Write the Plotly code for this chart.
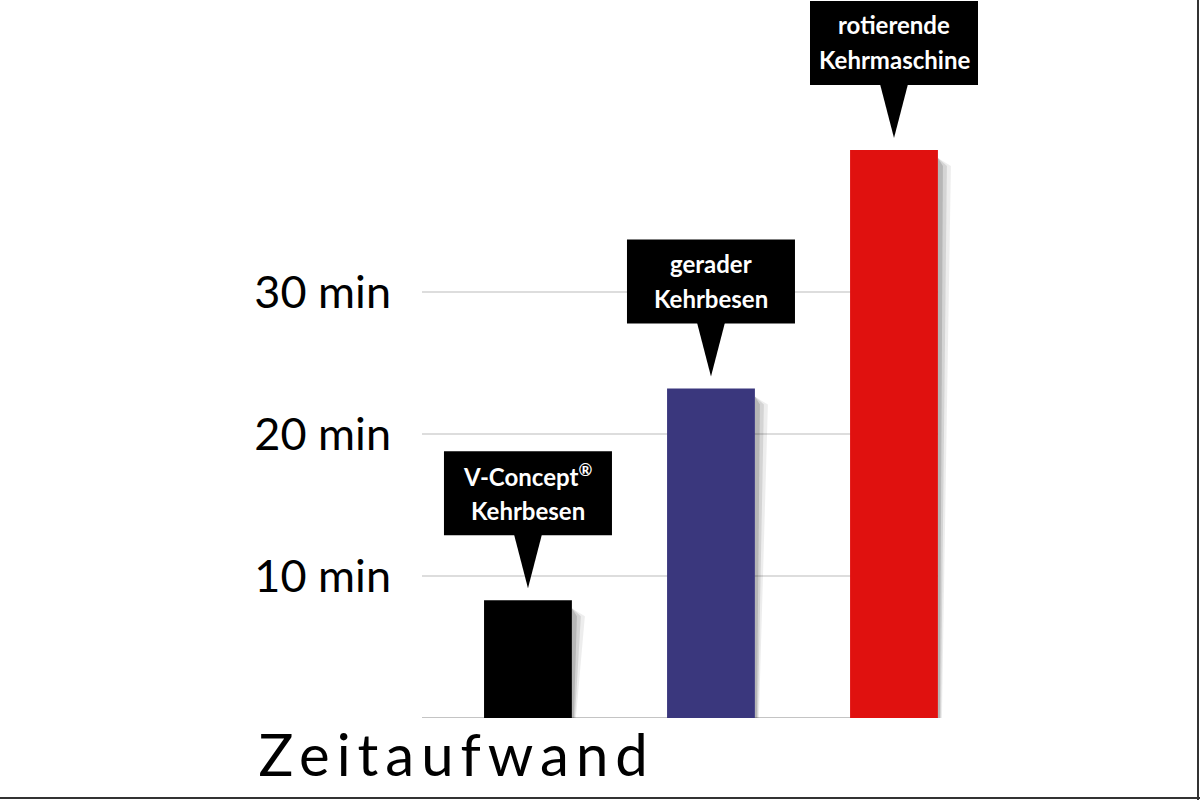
import plotly.graph_objects as go

# bar data (minutes)
categories = ["V-Concept Kehrbesen", "gerader Kehrbesen", "rotierende Kehrmaschine"]
minutes = [8.3, 23.2, 40.0]
bar_colors = ["#000000", "#3a377d", "#e0110f"]
callout_line1 = ["V-Concept<sup>®</sup>", "gerader", "rotierende"]
callout_line2 = ["Kehrbesen", "Kehrbesen", "Kehrmaschine"]

tick_vals = [10, 20, 30]
tick_text = ["10 min", "20 min", "30 min"]
axis_title = "Zeitaufwand"

W, H = 1200, 800
M = dict(l=422, r=0, t=0, b=82)
PW = W - M["l"] - M["r"]
PH = H - M["t"] - M["b"]

X_RANGE = [-0.579, 3.672]
Y_RANGE = [0, 50.56]
# pixel offsets -> data units
px_x = (X_RANGE[1] - X_RANGE[0]) / PW
px_y = (Y_RANGE[1] - Y_RANGE[0]) / PH

BAR_W = 0.48
grid_end = len(minutes) - 1 + BAR_W / 2  # grid stops at the last bar

fig = go.Figure()

fig.add_trace(
    go.Bar(
        x=list(range(len(categories))),
        y=minutes,
        width=BAR_W,
        marker=dict(color=bar_colors, line=dict(width=0)),
        hovertext=categories,
        showlegend=False,
    )
)

shapes = []
annotations = []

# grid lines and baseline, ending at the right edge of the last bar
for t in tick_vals:
    shapes.append(dict(type="line", xref="x", yref="y", x0=X_RANGE[0], x1=grid_end,
                       y0=t, y1=t, line=dict(color="#d2d2d2", width=1.5), layer="below"))
shapes.append(dict(type="line", xref="x", yref="y", x0=X_RANGE[0], x1=grid_end,
                   y0=0, y1=0, line=dict(color="#c4c4c4", width=2), layer="below"))

for i, v in enumerate(minutes):
    xr = i + BAR_W / 2
    # soft shadow on the right side of each bar
    for w_top, w_bot, op in [(13, 4, 0.07), (9, 3, 0.10), (5, 2, 0.14)]:
        path = (
            f"M {xr},{v - 8 * px_y} "
            f"L {xr + w_top * px_x},{v - 16 * px_y} "
            f"L {xr + w_bot * px_x},0 L {xr},0 Z"
        )
        shapes.append(
            dict(type="path", path=path, xref="x", yref="y",
                 fillcolor=f"rgba(0,0,0,{op})", line=dict(width=0), layer="below")
        )

    # callout box + pointer
    box_bot = v + 65 * px_y
    box_top = v + 149 * px_y
    half_w = 84 * px_x
    shapes.append(
        dict(type="rect", xref="x", yref="y",
             x0=i - half_w, x1=i + half_w, y0=box_bot, y1=box_top,
             fillcolor="#000000", line=dict(width=0))
    )
    tri = (
        f"M {i - 14 * px_x},{box_bot + 1 * px_y} "
        f"L {i + 14 * px_x},{box_bot + 1 * px_y} "
        f"L {i},{v + 12 * px_y} Z"
    )
    shapes.append(
        dict(type="path", path=tri, xref="x", yref="y",
             fillcolor="#000000", line=dict(width=0))
    )
    annotations.append(
        dict(x=i, y=v + 125 * px_y, xref="x", yref="y", text=callout_line1[i],
             showarrow=False, xanchor="center", yanchor="middle",
             font=dict(family="Lato", size=24, color="white", weight="bold"))
    )
    annotations.append(
        dict(x=i, y=v + 90 * px_y, xref="x", yref="y", text=callout_line2[i],
             showarrow=False, xanchor="center", yanchor="middle",
             font=dict(family="Lato", size=24, color="white", weight="bold"))
    )

# frame lines on bottom and right edge of the image
fx0 = -M["l"] / PW
fx1 = (W - M["l"]) / PW
fy0 = -M["b"] / PH
shapes.append(dict(type="line", xref="paper", yref="paper",
                   x0=fx0, x1=fx1, y0=fy0 + 2 / PH, y1=fy0 + 2 / PH,
                   line=dict(color="#333333", width=2)))
shapes.append(dict(type="line", xref="paper", yref="paper",
                   x0=fx1 - 2 / PW, x1=fx1 - 2 / PW, y0=fy0, y1=1,
                   line=dict(color="#333333", width=2)))

annotations.append(
    dict(x=(456 - M["l"]) / PW, y=-36 / PH, xref="paper", yref="paper",
         text=axis_title, showarrow=False, xanchor="center", yanchor="middle",
         font=dict(family="Lato", size=58, color="#000000"))
)

fig.update_layout(
    width=W,
    height=H,
    margin=M,
    paper_bgcolor="white",
    plot_bgcolor="white",
    shapes=shapes,
    annotations=annotations,
    xaxis=dict(range=X_RANGE, showticklabels=False, showgrid=False,
               zeroline=False, showline=False, fixedrange=True),
    yaxis=dict(range=Y_RANGE, tickvals=tick_vals, ticktext=tick_text,
               showgrid=False, zeroline=False, showline=False,
               ticks="", ticklabelstandoff=30,
               tickfont=dict(family="Lato", size=45, color="#000000")),
)

# the title in the reference is set with wide tracking
post = """
document.body.style.margin = '0';
document.querySelectorAll('.annotation-text').forEach(function (t) {
    if (t.textContent === 'Zeitaufwand') { t.style.letterSpacing = '7px'; }
});
"""

fig.write_html("out.html", config={"displayModeBar": False}, post_script=post)
